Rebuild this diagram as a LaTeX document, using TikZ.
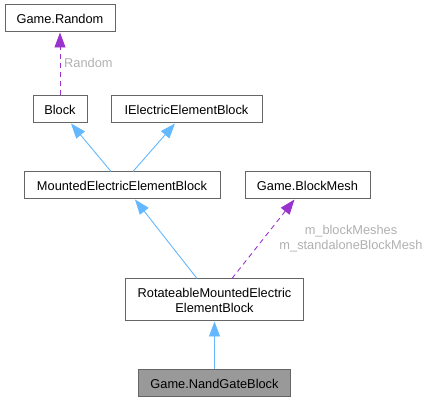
\documentclass[tikz,border=0pt]{standalone}
\usepackage{fontspec}
\setmainfont{Liberation Sans}
\usetikzlibrary{arrows.meta}
\definecolor{inh}{HTML}{63B8FF}
\definecolor{usage}{HTML}{9A32CD}
\definecolor{bord}{HTML}{666666}
\definecolor{lbl}{HTML}{B0B0B0}
\begin{document}
\begin{tikzpicture}[x=1pt,y=-1pt,
  box/.style={draw=bord, line width=1pt, fill=white, inner sep=0pt, minimum height=27pt, font=\fontsize{12.8}{15}\selectfont, text=black},
  inhedge/.style={draw=inh, line width=0.9pt, -{Triangle[length=15pt,width=11pt]}},
  useedge/.style={draw=usage, line width=0.9pt, dash pattern=on 5pt off 4pt, -{Triangle[length=15pt,width=11pt]}},
  elabel/.style={text=lbl, font=\fontsize{12.8}{15}\selectfont, inner sep=0pt}]
\useasboundingbox (0,0) rectangle (429,403);
\node[box, minimum width=110pt] (random) at (60,18.5) {Game.Random};
\node[box, minimum width=54pt] (block) at (60,109.5) {Block};
\node[box, minimum width=151pt] (ielec) at (186.5,109.5) {IElectricElementBlock};
\node[box, minimum width=196pt] (mounted) at (122,185.5) {MountedElectricElementBlock};
\node[box, minimum width=125pt] (mesh) at (307.5,185.5) {Game.BlockMesh};
\node[box, minimum width=178pt, minimum height=42pt, align=center] (rot) at (214.5,300) {RotateableMountedElectric\\ElementBlock};
\node[box, minimum width=152pt, fill=black!40] (nand) at (214.5,383.5) {Game.NandGateBlock};
\draw[useedge] (block.north) -- (random.south);
\node[elabel, anchor=west] (lrandom) at (64,63) {Random};
\draw[inhedge] ([xshift=-11pt]mounted.north) -- ([xshift=11pt]block.south);
\draw[inhedge] ([xshift=11pt]mounted.north) -- ([xshift=-11.5pt]ielec.south);
\draw[inhedge] ([xshift=-17.5pt]rot.north) -- ([xshift=13pt]mounted.south);
\draw[useedge] ([xshift=17.5pt]rot.north) -- ([xshift=-13pt]mesh.south);
\node[elabel, align=center] (lmesh) at (351,238.5) {m\_blockMeshes\\m\_standaloneBlockMesh};
\draw[inhedge] (nand.north) -- (rot.south);
\end{tikzpicture}
\end{document}
